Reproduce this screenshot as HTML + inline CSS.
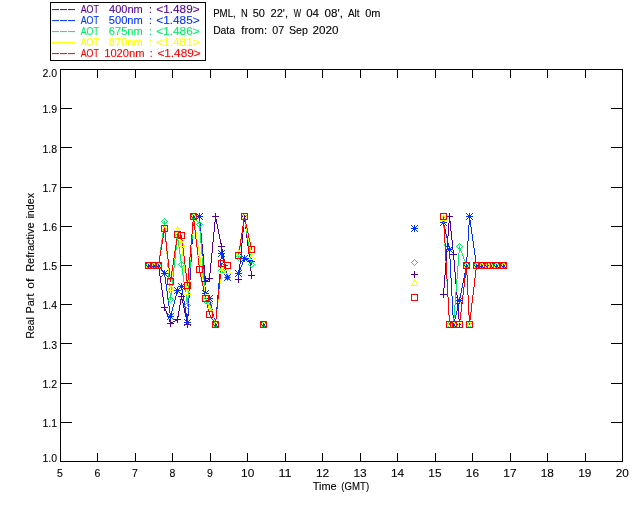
<!DOCTYPE html><html><head><meta charset="utf-8"><style>html,body{margin:0;padding:0;background:#fff}svg{display:block}text{font-family:"Liberation Sans",sans-serif;font-size:10.5px;fill:#000;stroke:#000;stroke-width:0.1px}</style></head><body>
<svg width="640" height="512" viewBox="0 0 640 512">
<rect width="640" height="512" fill="#fff"/>
<g shape-rendering="crispEdges" fill="none" stroke="#000" stroke-width="1">
<rect x="60.5" y="69.5" width="562.0" height="392.0"/>
<path d="M97.5 461.5v-9M97.5 69.5v8M135.5 461.5v-9M135.5 69.5v8M172.5 461.5v-9M172.5 69.5v8M210.5 461.5v-9M210.5 69.5v8M247.5 461.5v-9M247.5 69.5v8M285.5 461.5v-9M285.5 69.5v8M322.5 461.5v-9M322.5 69.5v8M360.5 461.5v-9M360.5 69.5v8M397.5 461.5v-9M397.5 69.5v8M435.5 461.5v-9M435.5 69.5v8M472.5 461.5v-9M472.5 69.5v8M510.5 461.5v-9M510.5 69.5v8M547.5 461.5v-9M547.5 69.5v8M585.5 461.5v-9M585.5 69.5v8M60.5 422.5h11M622.5 422.5h-12M60.5 383.5h11M622.5 383.5h-12M60.5 343.5h11M622.5 343.5h-12M60.5 304.5h11M622.5 304.5h-12M60.5 265.5h11M622.5 265.5h-12M60.5 226.5h11M622.5 226.5h-12M60.5 187.5h11M622.5 187.5h-12M60.5 147.5h11M622.5 147.5h-12M60.5 108.5h11M622.5 108.5h-12"/>
</g>
<text x="60.0" y="477" text-anchor="middle">5</text>
<text x="97.46666666666667" y="477" text-anchor="middle">6</text>
<text x="134.93333333333334" y="477" text-anchor="middle">7</text>
<text x="172.4" y="477" text-anchor="middle">8</text>
<text x="209.86666666666667" y="477" text-anchor="middle">9</text>
<text x="247.63333333333335" y="477" text-anchor="middle" textLength="13.2" lengthAdjust="spacingAndGlyphs">10</text>
<text x="285.1" y="477" text-anchor="middle" textLength="13.2" lengthAdjust="spacingAndGlyphs">11</text>
<text x="322.56666666666666" y="477" text-anchor="middle" textLength="13.2" lengthAdjust="spacingAndGlyphs">12</text>
<text x="360.03333333333336" y="477" text-anchor="middle" textLength="13.2" lengthAdjust="spacingAndGlyphs">13</text>
<text x="397.5" y="477" text-anchor="middle" textLength="13.2" lengthAdjust="spacingAndGlyphs">14</text>
<text x="434.9666666666667" y="477" text-anchor="middle" textLength="13.2" lengthAdjust="spacingAndGlyphs">15</text>
<text x="472.43333333333334" y="477" text-anchor="middle" textLength="13.2" lengthAdjust="spacingAndGlyphs">16</text>
<text x="509.90000000000003" y="477" text-anchor="middle" textLength="13.2" lengthAdjust="spacingAndGlyphs">17</text>
<text x="547.3666666666666" y="477" text-anchor="middle" textLength="13.2" lengthAdjust="spacingAndGlyphs">18</text>
<text x="584.8333333333333" y="477" text-anchor="middle" textLength="13.2" lengthAdjust="spacingAndGlyphs">19</text>
<text x="622.3" y="477" text-anchor="middle" textLength="13.2" lengthAdjust="spacingAndGlyphs">20</text>
<text x="57" y="461.5" text-anchor="end">1.0</text>
<text x="57" y="426.9" text-anchor="end">1.1</text>
<text x="57" y="387.70000000000005" text-anchor="end">1.2</text>
<text x="57" y="348.5" text-anchor="end">1.3</text>
<text x="57" y="309.30000000000007" text-anchor="end">1.4</text>
<text x="57" y="270.1" text-anchor="end">1.5</text>
<text x="57" y="230.89999999999995" text-anchor="end">1.6</text>
<text x="57" y="191.70000000000002" text-anchor="end">1.7</text>
<text x="57" y="152.49999999999997" text-anchor="end">1.8</text>
<text x="57" y="113.30000000000004" text-anchor="end">1.9</text>
<text x="57" y="76.8" text-anchor="end">2.0</text>
<rect x="50.5" y="2.5" width="155" height="58" fill="#fff" stroke="#000" shape-rendering="crispEdges"/>
<text transform="scale(2.2400,1)" x="22.646 26.217 29.788" y="12.90" style="font-size:12.8px;fill:#500096;stroke:none">---</text>
<text transform="scale(2.2400,1)" x="22.646 26.217 29.788" y="23.83" style="font-size:12.8px;fill:#0032ff;stroke:none">---</text>
<text transform="scale(2.2400,1)" x="22.646 26.217 29.788" y="34.76" style="font-size:12.8px;fill:#00f064;stroke:none">---</text>
<text transform="scale(2.2400,1)" x="22.646 26.217 29.788" y="45.69" style="font-size:12.8px;fill:#ffff00;stroke:none">---</text>
<text transform="scale(2.2400,1)" x="22.646 26.217 29.788" y="56.62" style="font-size:12.8px;fill:#ff0000;stroke:none">---</text>
<text y="490.00"><tspan x="312.74" textLength="23.97" lengthAdjust="spacingAndGlyphs">Time</tspan> <tspan x="341.33" textLength="27.81" lengthAdjust="spacingAndGlyphs">(GMT)</tspan></text>
<text y="16.70"><tspan x="213.20" textLength="22.51" lengthAdjust="spacingAndGlyphs">PML,</tspan> <tspan x="240.97" textLength="6.78" lengthAdjust="spacingAndGlyphs">N</tspan> <tspan x="252.73" textLength="12.22" lengthAdjust="spacingAndGlyphs">50</tspan> <tspan x="270.47" textLength="17.56" lengthAdjust="spacingAndGlyphs">22',</tspan> <tspan x="293.66" textLength="7.37" lengthAdjust="spacingAndGlyphs">W</tspan> <tspan x="306.19" textLength="12.85" lengthAdjust="spacingAndGlyphs">04</tspan> <tspan x="324.58" textLength="18.40" lengthAdjust="spacingAndGlyphs">08',</tspan> <tspan x="347.90" textLength="11.62" lengthAdjust="spacingAndGlyphs">Alt</tspan> <tspan x="365.21" textLength="15.24" lengthAdjust="spacingAndGlyphs">0m</tspan></text>
<text y="33.80"><tspan x="213.14" textLength="21.81" lengthAdjust="spacingAndGlyphs">Data</tspan> <tspan x="241.37" textLength="25.72" lengthAdjust="spacingAndGlyphs">from:</tspan> <tspan x="272.36" textLength="12.01" lengthAdjust="spacingAndGlyphs">07</tspan> <tspan x="288.99" textLength="18.95" lengthAdjust="spacingAndGlyphs">Sep</tspan> <tspan x="312.44" textLength="26.06" lengthAdjust="spacingAndGlyphs">2020</tspan></text>
<text transform="translate(34,0) rotate(-90)"><tspan x="-338.56" textLength="21.27" lengthAdjust="spacingAndGlyphs">Real</tspan> <tspan x="-313.61" textLength="20.05" lengthAdjust="spacingAndGlyphs">Part</tspan> <tspan x="-288.68" textLength="10.19" lengthAdjust="spacingAndGlyphs">of</tspan> <tspan x="-271.81" textLength="49.35" lengthAdjust="spacingAndGlyphs">Refractive</tspan> <tspan x="-218.56" textLength="25.60" lengthAdjust="spacingAndGlyphs">index</tspan></text>
<text y="12.80" style="fill:#500096;stroke:#500096"><tspan x="80.70" textLength="18.08" lengthAdjust="spacingAndGlyphs">AOT</tspan> <tspan x="109.04" textLength="33.73" lengthAdjust="spacingAndGlyphs">400nm</tspan> <tspan x="148.95">:</tspan> <tspan x="156.34" textLength="43.27" lengthAdjust="spacingAndGlyphs">&lt;1.489&gt;</tspan></text>
<text y="23.73" style="fill:#0032ff;stroke:#0032ff"><tspan x="80.70" textLength="18.08" lengthAdjust="spacingAndGlyphs">AOT</tspan> <tspan x="108.77" textLength="34.00" lengthAdjust="spacingAndGlyphs">500nm</tspan> <tspan x="148.95">:</tspan> <tspan x="156.34" textLength="43.27" lengthAdjust="spacingAndGlyphs">&lt;1.485&gt;</tspan></text>
<text y="34.66" style="fill:#00f064;stroke:#00f064"><tspan x="80.70" textLength="18.08" lengthAdjust="spacingAndGlyphs">AOT</tspan> <tspan x="108.77" textLength="34.00" lengthAdjust="spacingAndGlyphs">675nm</tspan> <tspan x="148.95">:</tspan> <tspan x="156.34" textLength="43.27" lengthAdjust="spacingAndGlyphs">&lt;1.486&gt;</tspan></text>
<text y="45.59" style="fill:#ffff00;stroke:#ffff00"><tspan x="80.70" textLength="18.08" lengthAdjust="spacingAndGlyphs">AOT</tspan> <tspan x="108.77" textLength="34.00" lengthAdjust="spacingAndGlyphs">870nm</tspan> <tspan x="148.95">:</tspan> <tspan x="156.34" textLength="43.27" lengthAdjust="spacingAndGlyphs">&lt;1.481&gt;</tspan></text>
<text y="56.52" style="fill:#ff0000;stroke:#ff0000"><tspan x="80.70" textLength="18.08" lengthAdjust="spacingAndGlyphs">AOT</tspan> <tspan x="104.20" textLength="40.34" lengthAdjust="spacingAndGlyphs">1020nm</tspan> <tspan x="149.65">:</tspan> <tspan x="157.44" textLength="43.17" lengthAdjust="spacingAndGlyphs">&lt;1.489&gt;</tspan></text>
<g shape-rendering="crispEdges" stroke="none">
<path fill="#500096" d="M193 216h1v10h-1zM193 216h7v1h-7zM215 216h1v6h-1zM244 216h1v6h-1zM449 216h1v7h-1zM469 216h1v9h-1zM199 216h1v6h-1zM216 219h1v5h-1zM470 220h1v7h-1zM245 221h1v8h-1zM450 221h1v10h-1zM200 222h1v11h-1zM214 222h1v10h-1zM243 222h1v10h-1zM448 223h1v13h-1zM217 224h1v5h-1zM468 225h1v16h-1zM192 226h1v18h-1zM471 227h1v7h-1zM218 229h1v5h-1zM246 229h1v9h-1zM451 231h1v9h-1zM213 232h1v10h-1zM242 232h1v11h-1zM201 233h1v11h-1zM219 234h1v5h-1zM472 234h1v7h-1zM447 236h1v13h-1zM247 238h1v8h-1zM220 239h1v5h-1zM452 240h1v10h-1zM467 241h1v16h-1zM473 241h1v7h-1zM212 242h1v11h-1zM241 243h1v10h-1zM191 244h1v18h-1zM202 244h1v10h-1zM221 244h1v5h-1zM248 246h1v8h-1zM474 248h1v7h-1zM222 249h1v5h-1zM446 249h1v13h-1zM453 250h1v10h-1zM211 253h1v10h-1zM240 253h1v11h-1zM203 254h1v11h-1zM223 254h1v5h-1zM249 254h1v9h-1zM475 255h1v7h-1zM466 257h1v13h-1zM224 259h1v6h-1zM454 260h1v12h-1zM190 262h1v18h-1zM445 262h1v13h-1zM476 262h1v4h-1zM210 263h1v10h-1zM250 263h1v8h-1zM239 264h1v10h-1zM148 265h11v1h-11zM204 265h1v11h-1zM225 265h1v5h-1zM476 265h28v1h-28zM158 265h1v4h-1zM159 269h1v7h-1zM226 270h1v5h-1zM465 270h1v8h-1zM251 271h1v5h-1zM455 272h1v12h-1zM209 273h1v6h-1zM238 274h1v6h-1zM227 275h1v3h-1zM444 275h1v13h-1zM160 276h1v7h-1zM205 276h1v6h-1zM464 278h1v9h-1zM208 279h1v1h-1zM189 280h1v18h-1zM205 280h3v1h-3zM161 283h1v7h-1zM456 284h1v11h-1zM463 287h1v8h-1zM443 288h1v7h-1zM162 290h1v7h-1zM457 295h1v12h-1zM462 295h1v8h-1zM181 296h1v3h-1zM163 297h1v7h-1zM188 298h1v18h-1zM180 299h1v6h-1zM182 299h1v4h-1zM183 303h1v5h-1zM461 303h1v9h-1zM164 304h1v5h-1zM179 305h1v6h-1zM458 307h1v12h-1zM184 308h1v5h-1zM165 309h1v2h-1zM166 311h1v3h-1zM178 311h1v6h-1zM460 312h1v8h-1zM185 313h1v4h-1zM167 314h1v3h-1zM187 316h1v9h-1zM168 317h1v2h-1zM177 317h1v3h-1zM186 317h1v5h-1zM169 319h1v3h-1zM459 319h1v6h-1zM175 320h2v1h-2zM173 321h2v1h-2zM170 322h3v1h-3zM170 323h1v1h-1z"/>
<path fill="#0032ff" d="M193 216h1v9h-1zM193 216h7v1h-7zM469 216h1v9h-1zM199 216h1v7h-1zM470 220h1v7h-1zM443 222h1v3h-1zM200 223h1v13h-1zM192 225h1v18h-1zM444 225h1v4h-1zM468 225h1v16h-1zM471 227h1v7h-1zM445 229h1v5h-1zM446 234h1v4h-1zM472 234h1v7h-1zM201 236h1v13h-1zM447 238h1v5h-1zM467 241h1v16h-1zM473 241h1v7h-1zM191 243h1v18h-1zM448 243h1v4h-1zM449 247h1v12h-1zM474 248h1v7h-1zM202 249h1v12h-1zM221 253h1v6h-1zM222 255h1v4h-1zM475 255h1v7h-1zM466 257h1v11h-1zM244 258h2v1h-2zM220 259h1v12h-1zM223 259h1v4h-1zM244 259h1v1h-1zM246 259h2v1h-2zM450 259h1v19h-1zM243 260h1v2h-1zM248 260h2v1h-2zM190 261h1v17h-1zM203 261h1v13h-1zM250 261h2v1h-2zM242 262h1v3h-1zM476 262h1v4h-1zM224 263h1v4h-1zM148 265h11v1h-11zM241 265h1v2h-1zM476 265h28v1h-28zM159 266h1v1h-1zM160 267h1v2h-1zM225 267h1v4h-1zM240 267h1v3h-1zM465 268h1v5h-1zM161 269h1v1h-1zM162 270h1v1h-1zM239 270h1v2h-1zM163 271h1v2h-1zM219 271h1v12h-1zM226 271h1v4h-1zM238 272h1v2h-1zM164 273h1v4h-1zM464 273h1v5h-1zM204 274h1v13h-1zM227 275h1v3h-1zM165 277h1v7h-1zM189 278h1v18h-1zM451 278h1v18h-1zM463 278h1v5h-1zM218 283h1v12h-1zM462 283h1v5h-1zM166 284h1v7h-1zM181 286h1v3h-1zM180 287h2v1h-2zM205 287h1v7h-1zM179 288h1v1h-1zM461 288h1v5h-1zM178 289h1v1h-1zM182 289h1v6h-1zM177 290h1v2h-1zM167 291h1v8h-1zM176 292h1v4h-1zM460 293h1v5h-1zM206 294h1v1h-1zM183 295h1v6h-1zM207 295h1v2h-1zM217 295h1v12h-1zM175 296h1v4h-1zM188 296h1v18h-1zM452 296h1v19h-1zM208 297h1v1h-1zM209 298h1v3h-1zM459 298h1v5h-1zM168 299h1v7h-1zM174 300h1v4h-1zM184 301h1v6h-1zM210 301h1v4h-1zM458 303h1v4h-1zM173 304h1v3h-1zM211 305h1v4h-1zM169 306h1v7h-1zM172 307h1v4h-1zM185 307h1v6h-1zM216 307h1v12h-1zM457 307h1v4h-1zM212 309h1v5h-1zM171 311h1v4h-1zM456 311h1v4h-1zM170 313h1v4h-1zM186 313h1v6h-1zM187 314h1v9h-1zM213 314h1v4h-1zM453 315h1v10h-1zM455 315h1v4h-1zM214 318h1v4h-1zM215 319h1v6h-1zM454 319h1v4h-1z"/>
<path fill="#00f064" d="M193 216h1v8h-1zM244 216h1v4h-1zM193 217h2v1h-2zM195 218h1v2h-1zM443 219h1v9h-1zM196 220h1v1h-1zM243 220h1v7h-1zM245 220h1v7h-1zM164 221h1v7h-1zM197 221h1v1h-1zM198 222h1v2h-1zM192 224h1v15h-1zM199 224h1v7h-1zM163 225h1v8h-1zM242 227h1v7h-1zM246 227h1v7h-1zM165 228h1v13h-1zM444 228h1v18h-1zM200 231h1v12h-1zM162 233h1v7h-1zM241 234h1v6h-1zM247 234h1v6h-1zM177 236h1v5h-1zM191 239h1v15h-1zM161 240h1v7h-1zM178 240h1v7h-1zM240 240h1v7h-1zM248 240h1v7h-1zM166 241h1v13h-1zM176 241h1v9h-1zM201 243h1v13h-1zM445 246h1v17h-1zM459 246h1v7h-1zM160 247h1v8h-1zM179 247h1v7h-1zM239 247h1v7h-1zM249 247h1v7h-1zM460 248h1v3h-1zM175 250h1v9h-1zM461 251h1v2h-1zM458 253h1v13h-1zM462 253h1v3h-1zM167 254h1v13h-1zM180 254h1v7h-1zM190 254h1v14h-1zM238 254h1v4h-1zM250 254h1v7h-1zM159 255h1v7h-1zM202 256h1v13h-1zM463 256h1v3h-1zM174 259h1v9h-1zM464 259h1v2h-1zM181 261h1v7h-1zM251 261h1v4h-1zM465 261h1v3h-1zM158 262h1v4h-1zM446 263h1v18h-1zM466 264h1v11h-1zM148 265h11v1h-11zM476 265h28v1h-28zM457 266h1v13h-1zM476 265h1v5h-1zM168 267h1v13h-1zM173 268h1v9h-1zM182 268h1v7h-1zM189 268h1v15h-1zM203 269h1v12h-1zM221 270h1v5h-1zM475 270h1v8h-1zM221 271h2v1h-2zM223 272h1v1h-1zM224 273h1v2h-1zM183 275h1v7h-1zM220 275h1v9h-1zM225 275h1v1h-1zM467 275h1v20h-1zM226 276h1v1h-1zM172 277h1v9h-1zM227 277h1v1h-1zM474 278h1v9h-1zM456 279h1v13h-1zM169 280h1v13h-1zM204 281h1v13h-1zM447 281h1v17h-1zM184 282h1v6h-1zM188 283h1v15h-1zM219 284h1v9h-1zM171 286h1v9h-1zM473 287h1v8h-1zM185 288h1v7h-1zM455 292h1v13h-1zM170 293h1v7h-1zM218 293h1v9h-1zM205 294h1v7h-1zM186 295h1v7h-1zM468 295h1v20h-1zM472 295h1v8h-1zM187 298h1v8h-1zM448 298h1v18h-1zM206 301h1v1h-1zM207 302h2v1h-2zM217 302h1v9h-1zM209 303h1v2h-1zM471 303h1v9h-1zM210 305h1v4h-1zM454 305h1v13h-1zM211 309h1v3h-1zM216 311h1v9h-1zM212 312h1v4h-1zM470 312h1v8h-1zM469 315h1v10h-1zM213 316h1v3h-1zM449 316h1v9h-1zM453 318h1v7h-1zM214 319h1v4h-1zM215 320h1v5h-1zM449 324h5v1h-5z"/>
<path fill="#ffff00" d="M193 216h1v7h-1zM244 216h1v4h-1zM443 217h1v9h-1zM245 219h1v6h-1zM194 220h1v6h-1zM243 220h1v6h-1zM192 223h1v12h-1zM246 225h1v6h-1zM195 226h1v6h-1zM242 226h1v6h-1zM444 226h1v18h-1zM164 228h1v5h-1zM177 229h1v5h-1zM178 231h1v4h-1zM247 231h1v5h-1zM163 232h1v6h-1zM196 232h1v7h-1zM241 232h1v6h-1zM165 233h1v10h-1zM176 234h1v8h-1zM179 235h1v3h-1zM191 235h1v13h-1zM248 236h1v6h-1zM162 238h1v6h-1zM180 238h1v4h-1zM240 238h1v6h-1zM197 239h1v6h-1zM175 242h1v8h-1zM181 242h1v5h-1zM249 242h1v6h-1zM166 243h1v10h-1zM161 244h1v6h-1zM239 244h1v6h-1zM445 244h1v18h-1zM198 245h1v6h-1zM182 247h1v8h-1zM190 248h1v12h-1zM250 248h1v6h-1zM160 250h1v6h-1zM174 250h1v9h-1zM238 250h1v3h-1zM199 251h1v7h-1zM167 253h1v10h-1zM251 254h1v3h-1zM183 255h1v8h-1zM159 256h1v6h-1zM200 258h1v7h-1zM173 259h1v8h-1zM189 260h1v13h-1zM158 262h1v4h-1zM446 262h1v18h-1zM168 263h1v10h-1zM184 263h1v8h-1zM148 265h11v1h-11zM201 265h1v7h-1zM466 265h1v10h-1zM476 265h28v1h-28zM476 265h1v5h-1zM172 267h1v8h-1zM221 270h7v1h-7zM465 270h1v8h-1zM475 270h1v8h-1zM185 271h1v8h-1zM221 270h1v5h-1zM202 272h1v7h-1zM169 273h1v10h-1zM188 273h1v12h-1zM171 275h1v8h-1zM220 275h1v9h-1zM467 275h1v20h-1zM464 278h1v9h-1zM474 278h1v9h-1zM186 279h1v8h-1zM203 279h1v7h-1zM447 280h1v18h-1zM170 283h1v5h-1zM219 284h1v9h-1zM187 285h1v7h-1zM204 286h1v7h-1zM463 287h1v8h-1zM473 287h1v8h-1zM205 293h1v5h-1zM218 293h1v9h-1zM462 295h1v8h-1zM468 295h1v20h-1zM472 295h1v8h-1zM206 298h1v3h-1zM448 298h1v18h-1zM207 301h1v3h-1zM217 302h1v9h-1zM461 303h1v9h-1zM471 303h1v9h-1zM208 304h1v3h-1zM209 307h1v3h-1zM210 310h1v2h-1zM216 311h1v9h-1zM211 312h1v3h-1zM460 312h1v8h-1zM470 312h1v8h-1zM212 315h1v3h-1zM469 315h1v10h-1zM449 316h1v9h-1zM213 318h1v2h-1zM214 320h1v3h-1zM215 320h1v5h-1zM459 320h1v5h-1zM449 324h11v1h-11z"/>
<path fill="#ff0000" d="M193 216h1v6h-1zM244 216h1v4h-1zM443 216h1v9h-1zM245 219h1v5h-1zM243 220h1v6h-1zM194 221h1v9h-1zM192 222h1v12h-1zM246 224h1v4h-1zM444 225h1v18h-1zM242 226h1v7h-1zM164 228h1v5h-1zM247 228h1v5h-1zM195 230h1v9h-1zM163 232h1v6h-1zM165 233h1v9h-1zM241 233h1v6h-1zM248 233h1v5h-1zM177 234h1v4h-1zM177 234h2v1h-2zM191 234h1v11h-1zM179 235h3v1h-3zM181 235h1v5h-1zM162 238h1v6h-1zM176 238h1v7h-1zM249 238h1v4h-1zM196 239h1v8h-1zM240 239h1v7h-1zM182 240h1v8h-1zM166 242h1v9h-1zM250 242h1v5h-1zM445 243h1v18h-1zM161 244h1v6h-1zM175 245h1v6h-1zM190 245h1v12h-1zM239 246h1v6h-1zM197 247h1v9h-1zM251 247h1v3h-1zM183 248h1v8h-1zM160 250h1v6h-1zM167 251h1v8h-1zM174 251h1v7h-1zM238 252h1v4h-1zM159 256h1v6h-1zM184 256h1v9h-1zM198 256h1v9h-1zM189 257h1v11h-1zM173 258h1v7h-1zM168 259h1v9h-1zM446 261h1v18h-1zM158 262h1v4h-1zM221 263h1v6h-1zM221 263h2v1h-2zM223 264h3v1h-3zM148 265h11v1h-11zM172 265h1v6h-1zM185 265h1v8h-1zM199 265h1v7h-1zM226 265h2v1h-2zM466 265h1v10h-1zM476 265h28v1h-28zM476 265h1v5h-1zM169 268h1v9h-1zM188 268h1v12h-1zM220 269h1v10h-1zM465 270h1v8h-1zM475 270h1v8h-1zM171 271h1v7h-1zM200 272h1v5h-1zM186 273h1v8h-1zM467 275h1v20h-1zM170 277h1v5h-1zM201 277h1v5h-1zM464 278h1v9h-1zM474 278h1v9h-1zM219 279h1v10h-1zM447 279h1v18h-1zM187 280h1v6h-1zM202 282h1v4h-1zM203 286h1v5h-1zM463 287h1v8h-1zM473 287h1v8h-1zM218 289h1v10h-1zM204 291h1v5h-1zM462 295h1v8h-1zM468 295h1v20h-1zM472 295h1v8h-1zM205 296h1v4h-1zM448 297h1v18h-1zM217 299h1v10h-1zM206 300h1v4h-1zM461 303h1v9h-1zM471 303h1v9h-1zM207 304h1v4h-1zM208 308h1v4h-1zM216 309h1v10h-1zM209 312h1v3h-1zM460 312h1v8h-1zM470 312h1v8h-1zM210 315h1v2h-1zM449 315h1v10h-1zM469 315h1v10h-1zM211 317h1v2h-1zM212 319h1v1h-1zM215 319h1v6h-1zM213 320h1v2h-1zM459 320h1v5h-1zM214 322h1v2h-1zM449 324h11v1h-11z"/>
<path fill="#500096" d="M193 213h1v7h-1zM199 213h1v7h-1zM215 213h1v7h-1zM244 213h1v7h-1zM449 213h1v7h-1zM469 213h1v7h-1zM190 216h13v1h-13zM212 216h7v1h-7zM241 216h7v1h-7zM446 216h7v1h-7zM466 216h7v1h-7zM221 243h1v7h-1zM218 246h7v1h-7zM453 251h1v7h-1zM450 254h7v1h-7zM148 262h1v7h-1zM153 262h1v7h-1zM158 262h1v7h-1zM466 262h1v7h-1zM476 262h1v7h-1zM481 262h1v7h-1zM487 262h1v7h-1zM490 262h1v7h-1zM496 262h1v7h-1zM503 262h1v7h-1zM145 265h17v1h-17zM463 265h7v1h-7zM473 265h34v1h-34zM414 271h1v7h-1zM251 272h1v7h-1zM227 274h1v7h-1zM411 274h7v1h-7zM209 275h1v7h-1zM248 275h7v1h-7zM238 276h1v7h-1zM224 277h7v1h-7zM205 278h8v1h-8zM205 278h1v7h-1zM235 279h7v1h-7zM202 281h8v1h-8zM443 291h1v7h-1zM181 293h1v7h-1zM440 294h7v1h-7zM178 296h7v1h-7zM164 304h1v7h-1zM161 307h7v1h-7zM177 316h1v7h-1zM174 319h7v1h-7zM170 320h1v7h-1zM187 321h1v7h-1zM263 321h1v7h-1zM459 321h1v7h-1zM167 323h7v1h-7zM184 324h7v1h-7zM260 324h7v1h-7zM456 324h7v1h-7z"/>
<path fill="#0032ff" d="M190 213h1v1h-1zM193 213h1v7h-1zM196 213h1v1h-1zM199 213h1v7h-1zM202 213h1v1h-1zM466 213h1v1h-1zM469 213h1v7h-1zM472 213h1v1h-1zM191 214h1v1h-1zM195 214h1v1h-1zM197 214h1v1h-1zM201 214h1v1h-1zM467 214h1v1h-1zM471 214h1v1h-1zM192 215h1v3h-1zM194 215h1v3h-1zM198 215h1v3h-1zM200 215h1v3h-1zM468 215h1v3h-1zM470 215h1v3h-1zM190 216h13v1h-13zM466 216h7v1h-7zM191 218h1v1h-1zM195 218h1v1h-1zM197 218h1v1h-1zM201 218h1v1h-1zM467 218h1v1h-1zM471 218h1v1h-1zM190 219h1v1h-1zM196 219h1v1h-1zM202 219h1v1h-1zM440 219h1v1h-1zM443 219h1v7h-1zM446 219h1v1h-1zM466 219h1v1h-1zM472 219h1v1h-1zM441 220h1v1h-1zM445 220h1v1h-1zM442 221h1v3h-1zM444 221h1v3h-1zM440 222h7v1h-7zM441 224h1v1h-1zM445 224h1v1h-1zM411 225h1v1h-1zM414 225h1v7h-1zM417 225h1v1h-1zM440 225h1v1h-1zM446 225h1v1h-1zM412 226h1v1h-1zM416 226h1v1h-1zM413 227h1v3h-1zM415 227h1v3h-1zM411 228h7v1h-7zM412 230h1v1h-1zM416 230h1v1h-1zM411 231h1v1h-1zM417 231h1v1h-1zM446 246h1v1h-1zM449 246h1v7h-1zM452 246h1v1h-1zM447 247h1v1h-1zM451 247h1v1h-1zM448 248h1v3h-1zM450 248h1v3h-1zM446 249h7v1h-7zM218 250h1v1h-1zM221 250h1v7h-1zM224 250h1v1h-1zM219 251h1v1h-1zM223 251h1v1h-1zM447 251h1v1h-1zM451 251h1v1h-1zM220 252h1v3h-1zM222 252h1v3h-1zM446 252h1v1h-1zM452 252h1v1h-1zM218 253h7v1h-7zM219 255h1v1h-1zM223 255h1v1h-1zM241 255h1v1h-1zM244 255h1v7h-1zM247 255h1v1h-1zM218 256h1v1h-1zM224 256h1v1h-1zM242 256h1v1h-1zM246 256h1v1h-1zM243 257h1v3h-1zM245 257h1v3h-1zM241 258h8v1h-8zM251 258h1v7h-1zM254 258h1v1h-1zM249 259h1v1h-1zM253 259h1v1h-1zM242 260h1v1h-1zM246 260h1v1h-1zM250 260h1v3h-1zM252 260h1v3h-1zM241 261h1v1h-1zM247 261h8v1h-8zM145 262h1v1h-1zM148 262h1v7h-1zM150 262h2v1h-2zM153 262h1v7h-1zM155 262h2v1h-2zM158 262h1v7h-1zM161 262h1v1h-1zM463 262h1v1h-1zM466 262h1v7h-1zM469 262h1v1h-1zM473 262h1v1h-1zM476 262h1v7h-1zM478 262h2v1h-2zM481 262h1v7h-1zM484 262h1v1h-1zM487 262h1v7h-1zM490 262h1v7h-1zM493 262h1v1h-1zM496 262h1v7h-1zM499 262h2v1h-2zM503 262h1v7h-1zM506 262h1v1h-1zM146 263h1v1h-1zM150 263h2v1h-2zM155 263h2v1h-2zM160 263h1v1h-1zM249 263h1v1h-1zM253 263h1v1h-1zM464 263h1v1h-1zM468 263h1v1h-1zM474 263h1v1h-1zM478 263h2v1h-2zM483 263h1v1h-1zM485 263h1v1h-1zM488 263h1v5h-1zM489 263h1v5h-1zM492 263h1v1h-1zM494 263h1v1h-1zM498 263h1v1h-1zM501 263h1v1h-1zM505 263h1v1h-1zM147 264h1v3h-1zM149 264h1v3h-1zM152 264h1v3h-1zM154 264h1v3h-1zM157 264h1v3h-1zM159 264h1v3h-1zM248 264h1v1h-1zM254 264h1v1h-1zM465 264h1v3h-1zM467 264h1v3h-1zM475 264h1v3h-1zM477 264h1v3h-1zM480 264h1v3h-1zM482 264h1v3h-1zM486 264h1v3h-1zM491 264h1v3h-1zM495 264h1v3h-1zM497 264h1v3h-1zM502 264h1v3h-1zM504 264h1v3h-1zM145 265h17v1h-17zM463 265h7v1h-7zM473 265h34v1h-34zM146 267h1v1h-1zM150 267h2v1h-2zM155 267h2v1h-2zM160 267h1v1h-1zM464 267h1v1h-1zM468 267h1v1h-1zM474 267h1v1h-1zM478 267h2v1h-2zM483 267h1v1h-1zM485 267h1v1h-1zM492 267h1v1h-1zM494 267h1v1h-1zM498 267h1v1h-1zM501 267h1v1h-1zM505 267h1v1h-1zM145 268h1v1h-1zM150 268h2v1h-2zM155 268h2v1h-2zM161 268h1v1h-1zM463 268h1v1h-1zM469 268h1v1h-1zM473 268h1v1h-1zM478 268h2v1h-2zM484 268h1v1h-1zM493 268h1v1h-1zM499 268h2v1h-2zM506 268h1v1h-1zM161 270h1v1h-1zM164 270h1v7h-1zM167 270h1v1h-1zM235 270h1v1h-1zM238 270h1v7h-1zM241 270h1v1h-1zM162 271h1v1h-1zM166 271h1v1h-1zM236 271h1v1h-1zM240 271h1v1h-1zM163 272h1v3h-1zM165 272h1v3h-1zM237 272h1v3h-1zM239 272h1v3h-1zM161 273h7v1h-7zM235 273h7v1h-7zM224 274h1v1h-1zM227 274h1v7h-1zM230 274h1v1h-1zM162 275h1v1h-1zM166 275h1v1h-1zM225 275h1v1h-1zM229 275h1v1h-1zM236 275h1v1h-1zM240 275h1v1h-1zM161 276h1v1h-1zM167 276h1v1h-1zM226 276h1v3h-1zM228 276h1v3h-1zM235 276h1v1h-1zM241 276h1v1h-1zM224 277h7v1h-7zM225 279h1v1h-1zM229 279h1v1h-1zM224 280h1v1h-1zM230 280h1v1h-1zM178 283h1v1h-1zM181 283h1v7h-1zM184 283h1v1h-1zM179 284h1v1h-1zM183 284h1v1h-1zM180 285h1v3h-1zM182 285h1v3h-1zM178 286h7v1h-7zM174 287h1v1h-1zM177 287h1v7h-1zM175 288h1v1h-1zM179 288h1v1h-1zM183 288h1v1h-1zM176 289h1v3h-1zM178 289h1v3h-1zM184 289h1v1h-1zM174 290h7v1h-7zM202 290h1v1h-1zM205 290h1v7h-1zM208 290h1v1h-1zM203 291h1v1h-1zM207 291h1v1h-1zM175 292h1v1h-1zM179 292h1v1h-1zM204 292h1v3h-1zM206 292h1v4h-1zM174 293h1v1h-1zM180 293h1v1h-1zM202 293h7v1h-7zM203 295h1v1h-1zM207 295h1v2h-1zM209 295h1v7h-1zM212 295h1v1h-1zM202 296h1v1h-1zM208 296h1v4h-1zM211 296h1v1h-1zM210 297h1v3h-1zM456 297h1v1h-1zM459 297h1v7h-1zM462 297h1v1h-1zM206 298h7v1h-7zM457 298h1v1h-1zM461 298h1v1h-1zM458 299h1v3h-1zM460 299h1v3h-1zM207 300h1v1h-1zM211 300h1v1h-1zM456 300h7v1h-7zM206 301h1v1h-1zM212 301h1v1h-1zM457 302h1v1h-1zM461 302h1v1h-1zM456 303h1v1h-1zM462 303h1v1h-1zM167 313h1v1h-1zM170 313h1v7h-1zM173 313h1v1h-1zM168 314h1v1h-1zM172 314h1v1h-1zM169 315h1v3h-1zM171 315h1v3h-1zM167 316h7v1h-7zM168 318h1v1h-1zM172 318h1v1h-1zM167 319h1v1h-1zM173 319h1v1h-1zM184 319h1v1h-1zM187 319h1v7h-1zM190 319h1v1h-1zM185 320h1v1h-1zM189 320h1v1h-1zM186 321h1v3h-1zM188 321h1v3h-1zM212 321h1v1h-1zM215 321h1v7h-1zM218 321h1v1h-1zM260 321h1v1h-1zM263 321h1v7h-1zM266 321h1v1h-1zM450 321h1v1h-1zM453 321h1v7h-1zM456 321h1v1h-1zM184 322h7v1h-7zM213 322h1v1h-1zM217 322h1v1h-1zM261 322h1v1h-1zM265 322h1v1h-1zM451 322h1v1h-1zM455 322h1v1h-1zM214 323h1v3h-1zM216 323h1v3h-1zM262 323h1v3h-1zM264 323h1v3h-1zM452 323h1v3h-1zM454 323h1v3h-1zM185 324h1v1h-1zM189 324h1v1h-1zM212 324h7v1h-7zM260 324h7v1h-7zM450 324h7v1h-7zM184 325h1v1h-1zM190 325h1v1h-1zM213 326h1v1h-1zM217 326h1v1h-1zM261 326h1v1h-1zM265 326h1v1h-1zM451 326h1v1h-1zM455 326h1v1h-1zM212 327h1v1h-1zM218 327h1v1h-1zM260 327h1v1h-1zM266 327h1v1h-1zM450 327h1v1h-1zM456 327h1v1h-1z"/>
<path fill="#00f064" d="M193 213h1v1h-1zM244 213h1v1h-1zM192 214h1v1h-1zM194 214h1v1h-1zM243 214h1v1h-1zM245 214h1v1h-1zM191 215h1v1h-1zM195 215h1v1h-1zM242 215h1v1h-1zM246 215h1v1h-1zM190 216h1v1h-1zM196 216h1v1h-1zM241 216h1v1h-1zM247 216h1v1h-1zM443 216h1v1h-1zM191 217h1v1h-1zM195 217h1v1h-1zM242 217h1v1h-1zM246 217h1v1h-1zM442 217h1v1h-1zM444 217h1v1h-1zM164 218h1v1h-1zM192 218h1v1h-1zM194 218h1v1h-1zM243 218h1v1h-1zM245 218h1v1h-1zM441 218h1v1h-1zM445 218h1v1h-1zM163 219h1v1h-1zM165 219h1v1h-1zM193 219h1v1h-1zM244 219h1v1h-1zM440 219h1v1h-1zM446 219h1v1h-1zM162 220h1v1h-1zM166 220h1v1h-1zM441 220h1v1h-1zM445 220h1v1h-1zM161 221h1v1h-1zM167 221h1v1h-1zM199 221h1v1h-1zM442 221h1v1h-1zM444 221h1v1h-1zM162 222h1v1h-1zM166 222h1v1h-1zM198 222h1v1h-1zM200 222h1v1h-1zM443 222h1v1h-1zM163 223h1v1h-1zM165 223h1v1h-1zM197 223h1v1h-1zM201 223h1v1h-1zM164 224h1v1h-1zM196 224h1v1h-1zM202 224h1v1h-1zM197 225h1v1h-1zM201 225h1v1h-1zM198 226h1v1h-1zM200 226h1v1h-1zM199 227h1v1h-1zM177 233h1v1h-1zM176 234h1v1h-1zM178 234h1v1h-1zM175 235h1v1h-1zM179 235h1v1h-1zM174 236h1v1h-1zM180 236h1v1h-1zM175 237h1v1h-1zM179 237h1v1h-1zM176 238h1v1h-1zM178 238h1v1h-1zM177 239h1v1h-1zM459 243h1v1h-1zM458 244h1v1h-1zM460 244h1v1h-1zM457 245h1v1h-1zM461 245h1v1h-1zM456 246h1v1h-1zM462 246h1v1h-1zM457 247h1v1h-1zM461 247h1v1h-1zM458 248h1v1h-1zM460 248h1v1h-1zM459 249h1v1h-1zM238 254h1v1h-1zM237 255h1v1h-1zM239 255h1v1h-1zM236 256h1v1h-1zM240 256h1v1h-1zM235 257h1v1h-1zM241 257h1v1h-1zM236 258h1v1h-1zM240 258h1v1h-1zM237 259h1v1h-1zM239 259h1v1h-1zM414 259h1v1h-1zM238 260h1v1h-1zM413 260h1v1h-1zM415 260h1v1h-1zM181 261h1v1h-1zM251 261h1v1h-1zM412 261h1v1h-1zM416 261h1v1h-1zM148 262h1v1h-1zM153 262h1v1h-1zM158 262h1v1h-1zM180 262h1v1h-1zM182 262h1v1h-1zM250 262h1v1h-1zM252 262h1v1h-1zM411 262h1v1h-1zM417 262h1v1h-1zM466 262h1v1h-1zM476 262h1v1h-1zM481 262h1v1h-1zM487 262h1v1h-1zM490 262h1v1h-1zM496 262h1v1h-1zM503 262h1v1h-1zM147 263h1v1h-1zM149 263h1v1h-1zM152 263h1v1h-1zM154 263h1v1h-1zM157 263h1v1h-1zM159 263h1v1h-1zM179 263h1v1h-1zM183 263h1v1h-1zM249 263h1v1h-1zM253 263h1v1h-1zM412 263h1v1h-1zM416 263h1v1h-1zM465 263h1v1h-1zM467 263h1v1h-1zM475 263h1v1h-1zM477 263h1v1h-1zM480 263h1v1h-1zM482 263h1v1h-1zM486 263h1v1h-1zM488 263h2v1h-2zM491 263h1v1h-1zM495 263h1v1h-1zM497 263h1v1h-1zM502 263h1v1h-1zM504 263h1v1h-1zM146 264h1v1h-1zM150 264h1v3h-1zM151 264h1v3h-1zM155 264h1v3h-1zM156 264h1v3h-1zM160 264h1v1h-1zM178 264h1v1h-1zM184 264h1v1h-1zM248 264h1v1h-1zM254 264h1v1h-1zM413 264h1v1h-1zM415 264h1v1h-1zM464 264h1v1h-1zM468 264h1v1h-1zM474 264h1v1h-1zM478 264h1v3h-1zM479 264h1v3h-1zM483 264h1v1h-1zM485 264h1v1h-1zM488 264h2v1h-2zM492 264h1v1h-1zM494 264h1v1h-1zM498 264h1v1h-1zM501 264h1v1h-1zM505 264h1v1h-1zM145 265h1v1h-1zM161 265h1v1h-1zM179 265h1v1h-1zM183 265h1v1h-1zM249 265h1v1h-1zM253 265h1v1h-1zM414 265h1v1h-1zM463 265h1v1h-1zM469 265h1v1h-1zM473 265h1v1h-1zM484 265h1v1h-1zM487 265h1v1h-1zM490 265h1v1h-1zM493 265h1v1h-1zM499 265h2v1h-2zM506 265h1v1h-1zM146 266h1v1h-1zM160 266h1v1h-1zM180 266h1v1h-1zM182 266h1v1h-1zM250 266h1v1h-1zM252 266h1v1h-1zM464 266h1v1h-1zM468 266h1v1h-1zM474 266h1v1h-1zM483 266h1v1h-1zM485 266h1v1h-1zM488 266h2v1h-2zM492 266h1v1h-1zM494 266h1v1h-1zM498 266h1v1h-1zM501 266h1v1h-1zM505 266h1v1h-1zM147 267h1v1h-1zM149 267h1v1h-1zM152 267h1v1h-1zM154 267h1v1h-1zM157 267h1v1h-1zM159 267h1v1h-1zM181 267h1v1h-1zM221 267h1v1h-1zM251 267h1v1h-1zM465 267h1v1h-1zM467 267h1v1h-1zM475 267h1v1h-1zM477 267h1v1h-1zM480 267h1v1h-1zM482 267h1v1h-1zM486 267h1v1h-1zM488 267h2v1h-2zM491 267h1v1h-1zM495 267h1v1h-1zM497 267h1v1h-1zM502 267h1v1h-1zM504 267h1v1h-1zM148 268h1v1h-1zM153 268h1v1h-1zM158 268h1v1h-1zM220 268h1v1h-1zM222 268h1v1h-1zM466 268h1v1h-1zM476 268h1v1h-1zM481 268h1v1h-1zM487 268h1v1h-1zM490 268h1v1h-1zM496 268h1v1h-1zM503 268h1v1h-1zM219 269h1v1h-1zM223 269h1v1h-1zM218 270h1v1h-1zM224 270h1v1h-1zM219 271h1v1h-1zM223 271h1v1h-1zM220 272h1v1h-1zM222 272h1v1h-1zM221 273h1v1h-1zM227 274h1v1h-1zM226 275h1v1h-1zM228 275h1v1h-1zM225 276h1v1h-1zM229 276h1v1h-1zM224 277h1v1h-1zM230 277h1v1h-1zM225 278h1v1h-1zM229 278h1v1h-1zM226 279h1v1h-1zM228 279h1v1h-1zM227 280h1v1h-1zM170 296h1v1h-1zM169 297h1v1h-1zM171 297h1v1h-1zM205 297h1v1h-1zM168 298h1v1h-1zM172 298h1v1h-1zM204 298h1v1h-1zM206 298h1v1h-1zM167 299h1v1h-1zM173 299h1v1h-1zM203 299h1v1h-1zM207 299h1v1h-1zM168 300h1v1h-1zM172 300h1v1h-1zM202 300h1v1h-1zM208 300h2v1h-2zM169 301h1v1h-1zM171 301h1v1h-1zM203 301h1v1h-1zM207 301h2v1h-2zM210 301h1v1h-1zM170 302h1v1h-1zM187 302h1v1h-1zM204 302h1v1h-1zM206 302h2v1h-2zM211 302h1v1h-1zM186 303h1v1h-1zM188 303h1v1h-1zM205 303h2v1h-2zM212 303h1v1h-1zM185 304h1v1h-1zM189 304h1v1h-1zM207 304h1v1h-1zM211 304h1v1h-1zM184 305h1v1h-1zM190 305h1v1h-1zM208 305h1v1h-1zM210 305h1v1h-1zM185 306h1v1h-1zM189 306h1v1h-1zM209 306h1v1h-1zM186 307h1v1h-1zM188 307h1v1h-1zM187 308h1v1h-1zM215 321h1v1h-1zM263 321h1v1h-1zM449 321h1v1h-1zM453 321h1v1h-1zM469 321h1v1h-1zM214 322h1v1h-1zM216 322h1v1h-1zM262 322h1v1h-1zM264 322h1v1h-1zM448 322h1v1h-1zM450 322h1v1h-1zM452 322h1v1h-1zM454 322h1v1h-1zM468 322h1v1h-1zM470 322h1v1h-1zM213 323h1v1h-1zM217 323h1v1h-1zM261 323h1v1h-1zM265 323h1v1h-1zM447 323h1v1h-1zM451 323h1v1h-1zM455 323h1v1h-1zM467 323h1v1h-1zM471 323h1v1h-1zM212 324h1v1h-1zM218 324h1v1h-1zM260 324h1v1h-1zM266 324h1v1h-1zM446 324h1v1h-1zM450 324h1v1h-1zM452 324h1v1h-1zM456 324h1v1h-1zM466 324h1v1h-1zM472 324h1v1h-1zM213 325h1v1h-1zM217 325h1v1h-1zM261 325h1v1h-1zM265 325h1v1h-1zM447 325h1v1h-1zM451 325h1v1h-1zM455 325h1v1h-1zM467 325h1v1h-1zM471 325h1v1h-1zM214 326h1v1h-1zM216 326h1v1h-1zM262 326h1v1h-1zM264 326h1v1h-1zM448 326h1v1h-1zM450 326h1v1h-1zM452 326h1v1h-1zM454 326h1v1h-1zM468 326h1v1h-1zM470 326h1v1h-1zM215 327h1v1h-1zM263 327h1v1h-1zM449 327h1v1h-1zM453 327h1v1h-1zM469 327h1v1h-1z"/>
<path fill="#ffff00" d="M193 213h1v2h-1zM244 213h1v2h-1zM194 214h1v2h-1zM245 214h1v2h-1zM443 214h1v2h-1zM192 215h1v2h-1zM243 215h1v2h-1zM444 215h1v2h-1zM195 216h1v2h-1zM246 216h1v2h-1zM442 216h1v2h-1zM191 217h1v3h-1zM242 217h1v3h-1zM445 217h1v2h-1zM196 218h1v2h-1zM247 218h1v2h-1zM441 218h1v3h-1zM190 219h7v1h-7zM241 219h7v1h-7zM446 219h1v2h-1zM440 220h7v1h-7zM164 225h1v2h-1zM165 226h1v2h-1zM177 226h1v2h-1zM163 227h1v2h-1zM178 227h1v2h-1zM166 228h1v2h-1zM176 228h1v2h-1zM162 229h1v3h-1zM179 229h1v2h-1zM167 230h1v2h-1zM175 230h1v3h-1zM161 231h7v1h-7zM180 231h1v2h-1zM174 232h7v1h-7zM181 240h1v2h-1zM182 241h1v2h-1zM180 242h1v2h-1zM183 243h1v2h-1zM179 244h1v3h-1zM184 245h1v2h-1zM178 246h7v1h-7zM238 249h1v2h-1zM239 250h1v2h-1zM199 251h1v2h-1zM237 251h1v2h-1zM200 252h1v2h-1zM240 252h1v2h-1zM198 253h1v2h-1zM236 253h1v3h-1zM251 253h1v2h-1zM201 254h1v2h-1zM241 254h1v2h-1zM252 254h1v2h-1zM197 255h1v3h-1zM235 255h7v1h-7zM250 255h1v2h-1zM202 256h1v2h-1zM253 256h1v2h-1zM196 257h7v1h-7zM249 257h1v3h-1zM254 258h1v2h-1zM248 259h7v1h-7zM148 262h1v2h-1zM153 262h1v2h-1zM158 262h1v2h-1zM466 262h1v2h-1zM476 262h1v2h-1zM481 262h1v2h-1zM487 262h1v2h-1zM490 262h1v2h-1zM496 262h1v2h-1zM503 262h1v2h-1zM149 263h1v2h-1zM154 263h1v2h-1zM159 263h1v2h-1zM467 263h1v2h-1zM477 263h1v2h-1zM482 263h1v2h-1zM488 263h1v2h-1zM491 263h1v2h-1zM497 263h1v2h-1zM504 263h1v2h-1zM147 264h1v2h-1zM152 264h1v2h-1zM157 264h1v2h-1zM465 264h1v2h-1zM475 264h1v2h-1zM480 264h1v2h-1zM486 264h1v2h-1zM489 264h1v3h-1zM495 264h1v2h-1zM502 264h1v2h-1zM150 265h1v2h-1zM155 265h1v2h-1zM160 265h1v2h-1zM468 265h1v2h-1zM478 265h1v2h-1zM483 265h1v2h-1zM492 265h1v2h-1zM498 265h1v2h-1zM505 265h1v2h-1zM146 266h1v3h-1zM151 266h1v3h-1zM156 266h1v3h-1zM464 266h1v3h-1zM474 266h1v3h-1zM479 266h1v3h-1zM485 266h1v3h-1zM488 266h1v3h-1zM494 266h1v3h-1zM501 266h1v3h-1zM161 267h1v2h-1zM221 267h1v2h-1zM227 267h1v2h-1zM469 267h1v2h-1zM484 267h1v2h-1zM490 267h1v2h-1zM493 267h1v2h-1zM499 267h1v2h-1zM506 267h1v2h-1zM145 268h17v1h-17zM222 268h1v2h-1zM228 268h1v2h-1zM463 268h7v1h-7zM473 268h34v1h-34zM220 269h1v2h-1zM226 269h1v2h-1zM223 270h1v2h-1zM229 270h1v2h-1zM219 271h1v3h-1zM225 271h1v3h-1zM224 272h1v2h-1zM230 272h1v2h-1zM218 273h13v1h-13zM414 279h1v2h-1zM415 280h1v2h-1zM413 281h1v2h-1zM416 282h1v2h-1zM412 283h1v3h-1zM170 284h1v2h-1zM417 284h1v2h-1zM171 285h1v2h-1zM411 285h7v1h-7zM169 286h1v2h-1zM172 287h1v2h-1zM168 288h1v3h-1zM187 288h1v2h-1zM173 289h1v2h-1zM188 289h1v2h-1zM167 290h7v1h-7zM186 290h1v2h-1zM189 291h1v2h-1zM185 292h1v3h-1zM190 293h1v2h-1zM205 293h1v2h-1zM184 294h7v1h-7zM206 294h1v2h-1zM204 295h1v2h-1zM207 296h1v2h-1zM203 297h1v3h-1zM208 298h1v2h-1zM202 299h7v1h-7zM209 305h1v2h-1zM210 306h1v2h-1zM208 307h1v2h-1zM211 308h1v2h-1zM207 309h1v3h-1zM212 310h1v2h-1zM206 311h7v1h-7zM215 321h1v2h-1zM263 321h1v2h-1zM449 321h1v2h-1zM453 321h1v2h-1zM459 321h1v2h-1zM469 321h1v2h-1zM216 322h1v2h-1zM264 322h1v2h-1zM450 322h1v2h-1zM454 322h1v2h-1zM460 322h1v2h-1zM470 322h1v2h-1zM214 323h1v2h-1zM262 323h1v2h-1zM448 323h1v2h-1zM452 323h1v2h-1zM458 323h1v2h-1zM468 323h1v2h-1zM217 324h1v2h-1zM265 324h1v2h-1zM451 324h1v4h-1zM455 324h1v2h-1zM461 324h1v2h-1zM471 324h1v2h-1zM213 325h1v3h-1zM261 325h1v3h-1zM447 325h1v3h-1zM457 325h1v3h-1zM467 325h1v3h-1zM218 326h1v2h-1zM266 326h1v2h-1zM452 326h1v2h-1zM456 326h1v2h-1zM462 326h1v2h-1zM472 326h1v2h-1zM212 327h7v1h-7zM260 327h7v1h-7zM446 327h17v1h-17zM466 327h7v1h-7z"/>
<path fill="#ff0000" d="M190 213h7v1h-7zM241 213h7v1h-7zM440 213h7v1h-7zM190 213h1v7h-1zM196 213h1v7h-1zM241 213h1v7h-1zM247 213h1v7h-1zM440 213h1v7h-1zM446 213h1v7h-1zM190 219h7v1h-7zM241 219h7v1h-7zM440 219h7v1h-7zM161 225h7v1h-7zM161 225h1v7h-1zM167 225h1v7h-1zM161 231h7v1h-7zM174 231h7v1h-7zM174 231h1v7h-1zM178 232h7v1h-7zM178 231h1v8h-1zM180 231h1v8h-1zM184 232h1v7h-1zM174 237h7v1h-7zM178 238h7v1h-7zM248 246h7v1h-7zM248 246h1v7h-1zM254 246h1v7h-1zM235 252h7v1h-7zM248 252h7v1h-7zM235 252h1v7h-1zM241 252h1v7h-1zM235 258h7v1h-7zM218 260h7v1h-7zM218 260h1v7h-1zM224 260h1v9h-1zM145 262h17v1h-17zM224 262h7v1h-7zM463 262h7v1h-7zM473 262h34v1h-34zM145 262h1v7h-1zM150 262h1v7h-1zM151 262h1v7h-1zM155 262h1v7h-1zM156 262h1v7h-1zM161 262h1v7h-1zM230 262h1v7h-1zM463 262h1v7h-1zM469 262h1v7h-1zM473 262h1v7h-1zM478 262h1v7h-1zM479 262h1v7h-1zM484 262h1v7h-1zM487 262h1v7h-1zM490 262h1v7h-1zM493 262h1v7h-1zM499 262h1v7h-1zM500 262h1v7h-1zM506 262h1v7h-1zM196 266h7v1h-7zM218 266h7v1h-7zM196 266h1v7h-1zM202 266h1v7h-1zM145 268h17v1h-17zM224 268h7v1h-7zM463 268h7v1h-7zM473 268h34v1h-34zM196 272h7v1h-7zM167 278h7v1h-7zM167 278h1v7h-1zM173 278h1v7h-1zM184 282h7v1h-7zM184 282h1v7h-1zM190 282h1v7h-1zM167 284h7v1h-7zM184 288h7v1h-7zM411 294h7v1h-7zM202 295h7v1h-7zM411 294h1v7h-1zM417 294h1v7h-1zM202 295h1v7h-1zM208 295h1v7h-1zM411 300h7v1h-7zM202 301h7v1h-7zM206 311h7v1h-7zM206 311h1v7h-1zM212 311h1v7h-1zM206 317h7v1h-7zM212 321h7v1h-7zM260 321h7v1h-7zM446 321h17v1h-17zM466 321h7v1h-7zM212 321h1v7h-1zM218 321h1v7h-1zM260 321h1v7h-1zM266 321h1v7h-1zM446 321h1v7h-1zM450 321h1v7h-1zM452 321h1v7h-1zM456 321h1v7h-1zM462 321h1v7h-1zM466 321h1v7h-1zM472 321h1v7h-1zM212 327h7v1h-7zM260 327h7v1h-7zM446 327h17v1h-17zM466 327h7v1h-7z"/>
</g>
</svg></body></html>
